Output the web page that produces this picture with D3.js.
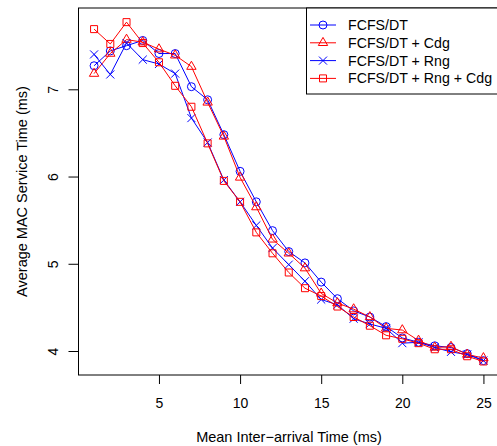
<!DOCTYPE html>
<html>
<head>
<meta charset="utf-8">
<script src="https://cdn.jsdelivr.net/npm/d3@7"></script>
<style>
  body { margin: 0; background: #fff; }
  text { font-family: "Liberation Sans", Arial, sans-serif; fill: #000; }
</style>
</head>
<body>
<div id="vis-container"></div>
<script>
// mean inter-arrival time (ms)
const xs = d3.range(1, 26);

const fcfs       = [7.27,7.44,7.50,7.56,7.41,7.41,7.03,6.88,6.48,6.06,5.71,5.38,5.14,5.01,4.79,4.60,4.46,4.39,4.28,4.15,4.10,4.06,4.04,3.97,3.89];
const fcfsCdg    = [7.18,7.41,7.57,7.54,7.46,7.39,7.26,6.85,6.46,5.99,5.65,5.28,5.12,4.95,4.66,4.55,4.48,4.39,4.26,4.24,4.12,4.04,4.05,3.96,3.92];
const fcfsRng    = [7.40,7.17,7.53,7.34,7.29,7.18,6.67,6.39,5.96,5.71,5.44,5.18,4.99,4.80,4.59,4.53,4.37,4.31,4.26,4.09,4.10,4.04,3.99,3.96,3.89];
const fcfsRngCdg = [7.69,7.52,7.77,7.53,7.31,7.04,6.80,6.38,5.95,5.71,5.36,5.12,4.90,4.72,4.63,4.51,4.39,4.29,4.18,4.14,4.09,4.02,4.02,3.94,3.88];

const seriesNames = ["FCFS/DT", "FCFS/DT + Cdg", "FCFS/DT + Rng", "FCFS/DT + Rng + Cdg"];
const xTicks = [5, 10, 15, 20, 25];
const yTicks = [4, 5, 6, 7];

const series = [
  {name: seriesNames[0], values: fcfs,       color: "#0000ff", symbol: d3.symbolCircle,   size: 50},
  {name: seriesNames[1], values: fcfsCdg,    color: "#ff0000", symbol: d3.symbolTriangle, size: 38},
  {name: seriesNames[2], values: fcfsRng,    color: "#0000ff", symbol: d3.symbolTimes || d3.symbolCross, size: 44},
  {name: seriesNames[3], values: fcfsRngCdg, color: "#ff0000", symbol: d3.symbolSquare,   size: 49}
];

const width = 497, height = 446;
const pLeft = 78.5, pRight = 499, pTop = 8, pBottom = 375;
const fontAxis = "14px", fontLab = "14.5px", fontLegend = "14.2px";

const x = d3.scaleLinear().domain([0.04, 25.96]).range([pLeft, pRight]);
const y = d3.scaleLinear().domain([3.725, 7.932]).range([pBottom, pTop]);

const svg = d3.select("#vis-container").append("svg")
  .attr("width", width)
  .attr("height", height);

// axes
const gx = svg.append("g").attr("transform", `translate(0,${pBottom})`)
  .call(d3.axisBottom(x).tickValues(xTicks).tickSize(9).tickFormat(d3.format("d")));
const gy = svg.append("g").attr("transform", `translate(${pLeft},0)`)
  .call(d3.axisLeft(y).tickValues(yTicks).tickSize(10).tickFormat(d3.format("d")));
[gx, gy].forEach(g => {
  g.select(".domain").remove();
  g.selectAll("line").attr("stroke", "#000");
  g.selectAll("text").style("font-size", fontAxis).style("font-family", '"Liberation Sans", Arial, sans-serif');
});
gx.selectAll(".tick text").attr("y", 28).attr("dy", "0.35em");
gy.selectAll(".tick text")
  .attr("x", null)
  .attr("text-anchor", "middle")
  .attr("transform", "translate(-25,0) rotate(-90)")
  .attr("dy", "0.35em");

// plot box
svg.append("rect")
  .attr("x", pLeft).attr("y", pTop)
  .attr("width", pRight - pLeft).attr("height", pBottom - pTop)
  .attr("fill", "none").attr("stroke", "#000").attr("stroke-width", 1);

// lines + markers
const line = d3.line().x((d, i) => x(xs[i])).y(d => y(d));

series.forEach(s => {
  svg.append("path")
    .datum(s.values)
    .attr("fill", "none")
    .attr("stroke", s.color)
    .attr("stroke-width", 1)
    .attr("d", line);
  svg.append("g").selectAll("path")
    .data(s.values)
    .join("path")
    .attr("transform", (d, i) => `translate(${x(xs[i])},${y(d)})`)
    .attr("d", d3.symbol(s.symbol, s.size))
    .attr("fill", "none")
    .attr("stroke", s.color)
    .attr("stroke-width", 1);
});

// axis titles
svg.append("text")
  .attr("x", 289).attr("y", 437.3)
  .attr("dy", "0.35em")
  .attr("text-anchor", "middle")
  .style("font-size", fontLab)
  .text("Mean Inter\u2212arrival Time (ms)");

svg.append("text")
  .attr("transform", `translate(22,${(pTop + pBottom) / 2}) rotate(-90)`)
  .attr("dy", "0.35em")
  .attr("text-anchor", "middle")
  .style("font-size", fontLab)
  .text("Average MAC Service Time (ms)");

// legend
const lg = svg.append("g");
lg.append("rect")
  .attr("x", 306.5).attr("y", pTop)
  .attr("width", 200).attr("height", 86)
  .attr("fill", "#fff").attr("stroke", "#000");

series.forEach((s, i) => {
  const ry = 25 + i * 17.8;
  lg.append("line")
    .attr("x1", 310).attr("x2", 336)
    .attr("y1", ry).attr("y2", ry)
    .attr("stroke", s.color);
  lg.append("path")
    .attr("transform", `translate(323,${ry})`)
    .attr("d", d3.symbol(s.symbol, s.size))
    .attr("fill", "none")
    .attr("stroke", s.color);
  lg.append("text")
    .attr("x", 348).attr("y", ry)
    .attr("dy", "0.35em")
    .style("font-size", fontLegend)
    .text(s.name);
});
</script>
</body>
</html>
